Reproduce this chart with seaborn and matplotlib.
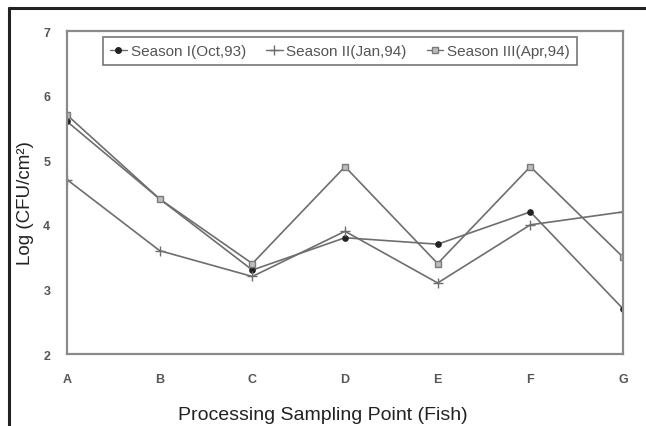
import pandas as pd
import seaborn as sns
import matplotlib.pyplot as plt
from matplotlib.lines import Line2D

# data
points = ['A', 'B', 'C', 'D', 'E', 'F', 'G']
season_names = ['Season I(Oct,93)', 'Season II(Jan,94)', 'Season III(Apr,94)']
season1 = [5.6, 4.4, 3.3, 3.8, 3.7, 4.2, 2.7]
season2 = [4.7, 3.6, 3.2, 3.9, 3.1, 4.0, 4.2]
season3 = [5.7, 4.4, 3.4, 4.9, 3.4, 4.9, 3.5]
y_ticks = [2, 3, 4, 5, 6, 7]

rows = []
for name, vals in zip(season_names, [season1, season2, season3]):
    for p, v in zip(points, vals):
        rows.append({'point': p, 'value': v, 'season': name})
df = pd.DataFrame(rows)

sns.set_style('white')
plt.rcParams['font.family'] = ['Liberation Sans', 'DejaVu Sans']

fig = plt.figure(figsize=(6.46, 4.27), dpi=100)
ax = fig.add_axes([0.1037, 0.1686, 0.8607, 0.7564])

line_col = '#6e6e6e'
sns.lineplot(data=df, x='point', y='value', hue='season', style='season',
             palette=[line_col] * 3, markers=['o', 'P', 's'], dashes=False,
             linewidth=1.2, markersize=4, ax=ax, legend=False, sort=False)

# restyle markers per series
mstyles = [dict(marker='o', ms=4, mfc='#222222', mec='#222222'),
           dict(marker='+', ms=7, mfc=line_col, mec=line_col, mew=1.0),
           dict(marker='s', ms=4.5, mfc='#bdbdbd', mec='#7a7a7a', mew=1.0)]
for ln, st in zip(ax.get_lines(), mstyles):
    ln.set(**st)

ax.set_xlim(0, 6)
ax.set_ylim(2, 7)
ax.set_yticks(y_ticks)
ax.set_xticks(range(len(points)))
ax.set_xticklabels(points)
ax.tick_params(axis='both', direction='in', length=4, color='#909090',
               labelsize=9, labelcolor='#555555')
ax.tick_params(axis='y', pad=12)
ax.tick_params(axis='x', pad=14)
for lab in ax.get_xticklabels() + ax.get_yticklabels():
    lab.set_fontweight('bold')
for sp in ax.spines.values():
    sp.set_color('#8a8a8a')
    sp.set_linewidth(1.6)

ax.set_xlabel('')
ax.set_ylabel('')
fig.text(0.5, 0.028, 'Processing Sampling Point (Fish)', ha='center', va='center',
         fontsize=14, color='#222222')
fig.text(0.039, 0.525, 'Log (CFU/cm²)', rotation=90, ha='center', va='center',
         fontsize=13.5, color='#222222')

handles = [Line2D([], [], color=line_col, lw=1.0, **st) for st in mstyles]
leg = ax.legend(handles, season_names, ncol=3, loc='upper left',
                bbox_to_anchor=(0.065, 0.981), borderaxespad=0, fontsize=11,
                frameon=True, fancybox=False, handlelength=1.1,
                handletextpad=0.25, columnspacing=1.3, borderpad=0.45,
                labelcolor='#555555')
leg.get_frame().set_edgecolor('#555555')
leg.get_frame().set_linewidth(1.2)

# outer frame lines of the scanned figure (top and left only)
fig.add_artist(Line2D([0.014, 1.0], [0.978, 0.978], transform=fig.transFigure,
                      color='#222222', lw=2.2))
fig.add_artist(Line2D([0.014, 0.014], [0.0, 0.978], transform=fig.transFigure,
                      color='#222222', lw=2.2))

fig.savefig('out.png', dpi=100)
